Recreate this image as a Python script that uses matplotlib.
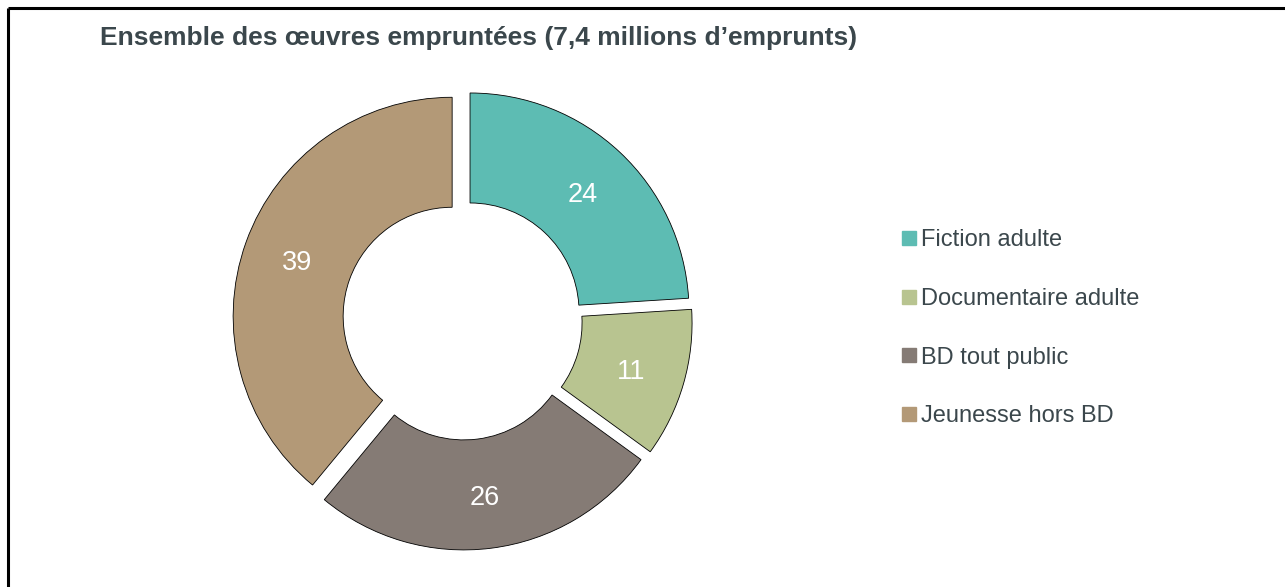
import matplotlib
matplotlib.use("Agg")
import matplotlib.pyplot as plt
from matplotlib.lines import Line2D
import numpy as np

categories = ["Fiction adulte", "Documentaire adulte", "BD tout public", "Jeunesse hors BD"]
values = [24, 11, 26, 39]
colors = ["#5DBCB3", "#B8C490", "#857B75", "#B39977"]
title = "Ensemble des œuvres empruntées (7,4 millions d’emprunts)"

W, H = 1285, 587
fig = plt.figure(figsize=(W / 100, H / 100), dpi=100)
ax = fig.add_axes([0, 0, 1, 1])

R = 219
cx, cy = 462.5, H - 320
explode = [11] * len(values)
wedges, _ = ax.pie(values, colors=colors, startangle=90, counterclock=False,
                   radius=R, center=(cx, cy), explode=explode,
                   wedgeprops=dict(width=110, edgecolor="black", linewidth=0.6))
ax.set_xlim(0, W)
ax.set_ylim(0, H)
ax.set_aspect("equal")
ax.axis("off")

for w, v in zip(wedges, values):
    ang = np.deg2rad((w.theta1 + w.theta2) / 2)
    x = w.center[0] + 165 * np.cos(ang)
    y = w.center[1] + 165 * np.sin(ang)
    ax.text(x, y, str(v), color="white", fontsize=19.5, ha="center",
            va="center_baseline", family="Liberation Sans")

# frame lines
ax.plot([8, 8], [0, H - 8], color="black", lw=2.2, solid_capstyle="butt")
ax.plot([8, W], [H - 8, H - 8], color="black", lw=2.2, solid_capstyle="butt")

txtcol = "#3B474C"
fig.text(100 / W, 1 - 45 / H, title, fontsize=19, fontweight="bold", color=txtcol,
         ha="left", va="baseline", family="Liberation Sans")

handles = [Line2D([], [], marker="s", linestyle="none", markersize=9.5,
                  markerfacecolor=c, markeredgecolor=c) for c in colors]
leg = ax.legend(handles, categories, loc="upper left",
                bbox_to_anchor=(903 / W, 1 - 229 / H), bbox_transform=fig.transFigure,
                frameon=False, prop=dict(family="Liberation Sans", size=17),
                labelcolor=txtcol, handlelength=0.55, handletextpad=0.2,
                labelspacing=1.56, borderpad=0, borderaxespad=0)

fig.savefig("out.png", dpi=100)
